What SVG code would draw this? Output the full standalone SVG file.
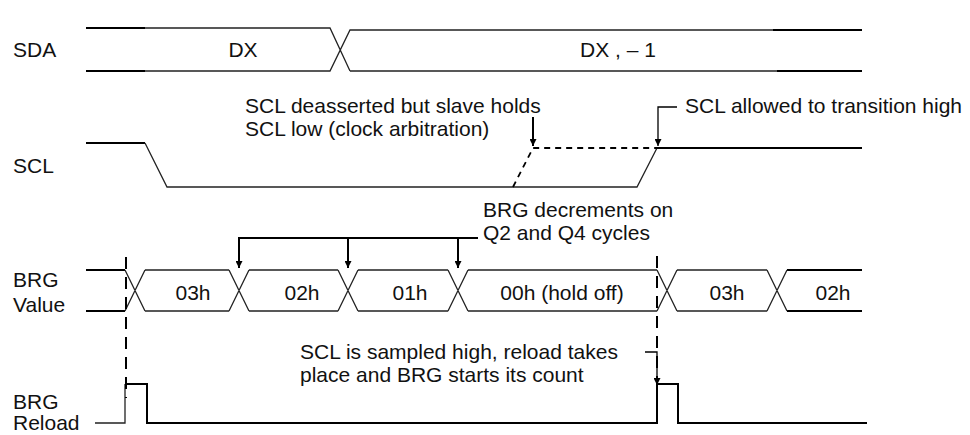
<svg xmlns="http://www.w3.org/2000/svg" width="970" height="435" viewBox="0 0 970 435">
<style>
text{font-family:"Liberation Sans",Arial,sans-serif;font-size:21px;fill:#111}
.thk{fill:none;stroke:#000;stroke-width:2}
.thn{fill:none;stroke:#222;stroke-width:1.3}
.dsh{fill:none;stroke:#000;stroke-width:2;stroke-dasharray:12 8}
.dsh2{fill:none;stroke:#000;stroke-width:1.8;stroke-dasharray:6 5}
.arr{fill:none;stroke:#000;stroke-width:2;marker-end:url(#ah)}
.arr1{fill:none;stroke:#000;stroke-width:1.3;marker-end:url(#ah)}
.mid{text-anchor:middle}
</style>
<defs>
<marker id="ah" viewBox="0 0 10 10" refX="10" refY="5" markerWidth="7" markerHeight="7" markerUnits="userSpaceOnUse" orient="auto">
<path d="M0,0 L10,5 L0,10 Z" fill="#000"/>
</marker>
</defs>
<rect width="970" height="435" fill="#fff"/>

<g id="sda">
<text x="13" y="57">SDA</text>
<path class="thk" d="M86,28 H145 M86,71 H145 M773,30 H862 M777,71 H862"/>
<path class="thn" d="M145,28 H330 L350,71 M145,71 H330 L350,30 H773 M350,71 H777"/>
<text class="mid" x="243" y="57">DX</text>
<text class="mid" x="618" y="57">DX , – 1</text>
</g>

<g id="scl">
<text x="13" y="173">SCL</text>
<path class="thk" d="M86,143 H145"/>
<path class="thn" d="M145,143 L167,187 H637 L657,148"/>
<path class="thk" d="M657,148 H862"/>
<path class="dsh2" d="M513,187 L533,148 H657"/>
</g>

<g id="note-hold">
<text x="245" y="113">SCL deasserted but slave holds</text>
<text x="245" y="136">SCL low (clock arbitration)</text>
</g>

<g id="note-allowed">
<text x="685" y="113">SCL allowed to transition high</text>
</g>

<g id="note-decrement">
<text x="483" y="217">BRG decrements on</text>
<text x="483" y="240">Q2 and Q4 cycles</text>
</g>

<g id="brg-value">
<text x="13" y="287">BRG</text>
<text x="13" y="312">Value</text>
<path class="thk" d="M86,270 H125 M86,311 H125 M787,270 H862 M787,311 H862"/>
<path class="thn" d="M125,270 L145,311 M125,311 L145,270
M145,270 H229 M145,311 H229
M229,270 L249,311 M229,311 L249,270
M249,270 H338 M249,311 H338
M338,270 L358,311 M338,311 L358,270
M358,270 H448 M358,311 H448
M448,270 L468,311 M448,311 L468,270
M468,270 H657 M468,311 H657
M657,270 L677,311 M657,311 L677,270
M677,270 H767 M677,311 H767
M767,270 L787,311 M767,311 L787,270"/>
<text class="mid" x="193" y="300">03h</text>
<text class="mid" x="302" y="300">02h</text>
<text class="mid" x="410" y="300">01h</text>
<text class="mid" x="562" y="300">00h (hold off)</text>
<text class="mid" x="727" y="300">03h</text>
<text class="mid" x="833" y="300">02h</text>
</g>

<g id="note-sampled">
<text x="300" y="359">SCL is sampled high, reload takes</text>
<text x="300" y="382">place and BRG starts its count</text>
</g>

<g id="brg-reload">
<text x="13" y="409">BRG</text>
<text x="13" y="430">Reload</text>
<path class="thn" d="M95,423 H125 V384"/>
<path class="thk" d="M125,384 H147 V423 H657 V384 H678 V423 H867"/>
</g>

<g id="connectors">
<path class="dsh" d="M126,257 V398"/>
<path class="dsh" d="M657,256 V398"/>
<path class="arr" d="M533,117 V146"/>
<path class="arr1" d="M677,107 H658 V146"/>
<path class="thk" d="M478,238 H239 V262"/>
<path class="arr" d="M239,250 V268"/>
<path class="arr" d="M348,238 V268"/>
<path class="arr" d="M458,238 V268"/>
<path class="arr1" d="M645,352 H657 V385"/>
</g>
</svg>
